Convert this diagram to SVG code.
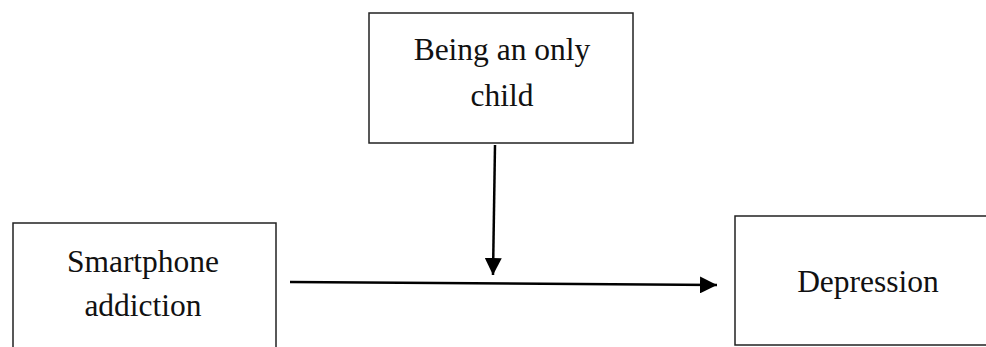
<svg xmlns="http://www.w3.org/2000/svg" width="986" height="347" viewBox="0 0 986 347">
<style>
.box{fill:#fff;stroke:#222;stroke-width:1.5}
.lbl{font-family:"Liberation Serif","Times New Roman",serif;font-size:31.5px;fill:#111;text-anchor:middle}
.conn{stroke:#000;stroke-width:2.5;fill:none}
</style>
<defs>
<marker id="ah" viewBox="0 0 10 10" refX="10" refY="5" markerWidth="17" markerHeight="17" markerUnits="userSpaceOnUse" orient="auto">
<path d="M0,0 L10,5 L0,10 Z" fill="#000"/>
</marker>
</defs>
<rect width="986" height="347" fill="#fff"/>
<g id="node-only-child">
<rect class="box" x="369" y="13" width="264" height="130"/>
<text class="lbl" x="502" y="60">Being an only</text>
<text class="lbl" x="502" y="106">child</text>
</g>
<g id="node-smartphone">
<rect class="box" x="13" y="223" width="263" height="130"/>
<text class="lbl" x="143" y="272">Smartphone</text>
<text class="lbl" x="143" y="316">addiction</text>
</g>
<g id="node-depression">
<rect class="box" x="735" y="216" width="260" height="129"/>
<text class="lbl" x="868" y="292">Depression</text>
</g>
<g id="connectors">
<line class="conn" x1="495" y1="145" x2="493" y2="275" marker-end="url(#ah)"/>
<line class="conn" x1="290" y1="282" x2="717" y2="285" marker-end="url(#ah)"/>
</g>
</svg>
